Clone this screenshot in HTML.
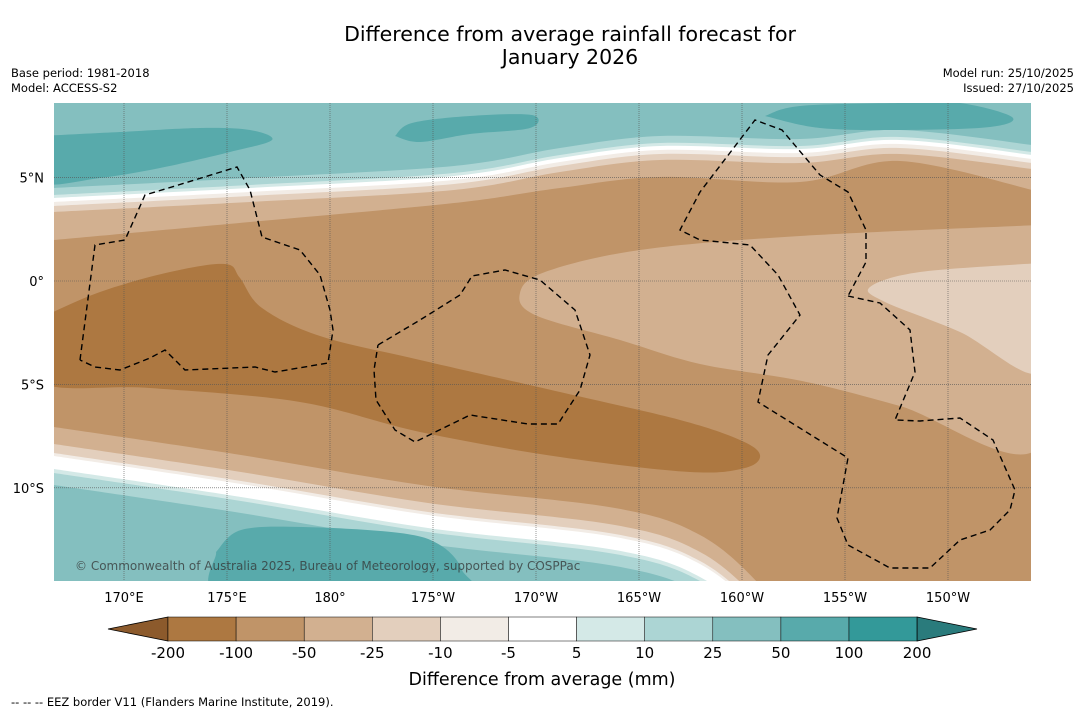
<!DOCTYPE html>
<html><head><meta charset="utf-8">
<style>
html,body{margin:0;padding:0;background:#fff;width:1085px;height:713px;overflow:hidden;}
body{font-family:"DejaVu Sans","Liberation Sans",sans-serif;}
svg{display:block;}
svg text{font-family:"DejaVu Sans","Liberation Sans",sans-serif;}
</style></head>
<body>
<svg id="chart" width="1085" height="713" viewBox="0 0 1085 713" xmlns="http://www.w3.org/2000/svg">
<text x="570" y="41" font-size="20.5" text-anchor="middle" fill="#000">Difference from average rainfall forecast for</text>
<text x="570" y="64" font-size="20.5" text-anchor="middle" fill="#000">January 2026</text>
<text x="11" y="77" font-size="11.5">Base period: 1981-2018</text>
<text x="11" y="92" font-size="11.5">Model: ACCESS-S2</text>
<text x="1074" y="77" font-size="11.5" text-anchor="end">Model run: 25/10/2025</text>
<text x="1074" y="92" font-size="11.5" text-anchor="end">Issued: 27/10/2025</text>
<defs><clipPath id="mapclip"><rect x="54" y="103" width="977" height="478"/></clipPath></defs>
<g id="map" clip-path="url(#mapclip)"></g>
<g id="grid"></g>
<g id="eez" clip-path="url(#mapclip)"></g>
<text x="75" y="570" font-size="12" fill="#333" fill-opacity="0.75">© Commonwealth of Australia 2025, Bureau of Meteorology, supported by COSPPac</text>
<g id="axes"></g>
<g id="cbar"></g>
<text x="542" y="685" font-size="17.5" text-anchor="middle">Difference from average (mm)</text>
<text x="11" y="706" font-size="11.5">--  --  -- EEZ border V11 (Flanders Marine Institute, 2019).</text>
</svg>
<script>
const levels=["-200","-100","-50","-25","-10","-5","5","10","25","50","100","200"];
const colors=["#ad7841","#c09468","#d2b090","#e3cfbd","#f2ece6","#ffffff","#d4e9e7","#acd5d4","#84bfbf","#58aaab","#339999"];
const lowColor="#8c5a2c", highColor="#2a7b7c";
const lonTicks=["170°E","175°E","180°","175°W","170°W","165°W","160°W","155°W","150°W"];
const lonVals=[170,175,180,185,190,195,200,205,210];
const latTicks=["5°N","0°","5°S","10°S"];
const latVals=[5,0,-5,-10];
const NS="http://www.w3.org/2000/svg";
const xLon=l=>124+(l-170)*20.6;
const yLat=l=>281-l*20.68;
function mk(tag,attrs,parent){const e=document.createElementNS(NS,tag);for(const k in attrs)e.setAttribute(k,attrs[k]);parent.appendChild(e);return e;}
function smooth(p){let d="M"+p[0][0]+","+p[0][1];for(let i=0;i<p.length-1;i++){const a=p[i-1]||p[i],b=p[i],c=p[i+1],e=p[i+2]||c;d+=" C"+(b[0]+(c[0]-a[0])/6)+","+(b[1]+(c[1]-a[1])/6)+" "+(c[0]-(e[0]-b[0])/6)+","+(c[1]-(e[1]-b[1])/6)+" "+c[0]+","+c[1];}return d;}
const map=document.getElementById('map');
function band(pts,closeTop,col,name){
  let d=smooth(pts);
  const y=closeTop?90:600;
  d+=" L1040,"+y+" L40,"+y+" Z";
  const el=mk('path',{d:d,fill:col},map);
  
  
}
function blob(pts,col,name){const el=mk('path',{d:smooth(pts.concat([pts[0]]))+"Z",fill:col},map);
  
  }
mk('rect',{x:40,y:90,width:1000,height:520,fill:colors[1]},map);
const A=[[40,241],[54,240],[250,222],[454,203],[560,188],[660,177],[800,182],[900,161],[1040,192]];
const B=[[40,213],[54,212],[250,202],[454,190],[560,172],[660,160],[800,163],[900,154],[1040,170]];
band(A,true,colors[2],'top-band-minus50');
band(B,true,colors[3],'top-band-minus25');
[[-6,4],[-10,5],[-14,6],[-17,7],[-24,8]].forEach((o,i)=>{
  band(B.map(p=>[p[0],p[1]+o[0]]),true,colors[4+i],'top-band-'+levels[5+i]);
});
blob([[40,136],[120,132],[200,128],[250,130],[272,140],[230,152],[160,168],[100,178],[40,182]],colors[9],'teal-patch-west');
blob([[395,136],[412,123],[470,116],[532,115],[530,128],[470,134],[420,142]],colors[9],'teal-patch-central');
blob([[765,116],[800,106],[900,103],[960,103],[1012,117],[990,127],[900,130],[820,128]],colors[9],'teal-patch-east');
blob([[1040,225],[800,236],[640,250],[545,272],[520,293],[535,315],[620,340],[700,364],[802,381],[900,406],[1040,446]],colors[2],'tongue-minus50');
blob([[1040,263],[920,272],[870,287],[885,302],[960,332],[1040,372]],colors[3],'tongue-minus25');
blob([[40,318],[100,292],[170,272],[225,264],[240,278],[262,308],[320,336],[420,360],[560,392],[680,420],[740,440],[760,455],[745,468],[690,472],[560,457],[420,432],[300,402],[150,388],[40,382]],colors[0],'dark-brown-region');
const C=[[40,425],[54,427],[241,455],[428,486],[615,508],[700,535],[760,585],[800,640]];
band(C,false,colors[2],'bottom-band-minus50');
[[17,3],[26,4],[29,5],[42,6],[46,7],[58,8]].forEach((o,i)=>{
  band(C.map(p=>[p[0],p[1]+o[0]]),false,colors[3+i],'bottom-band-'+levels[4+i]);
});
blob([[216,552],[241,530],[303,527],[400,533],[440,545],[462,570],[460,600],[230,600]],colors[9],'teal-patch-south');
const grid=document.getElementById('grid');
lonVals.forEach((v,i)=>{const x=xLon(v);const l=mk('line',{x1:x,x2:x,y1:103,y2:581,stroke:'#555','stroke-width':0.6,'stroke-dasharray':'1,1'},grid);
  
  });
latVals.forEach((v,i)=>{const y=yLat(v);const l=mk('line',{x1:54,x2:1031,y1:y,y2:y,stroke:'#555','stroke-width':0.6,'stroke-dasharray':'1,1'},grid);
  
  });
const axes=document.getElementById('axes');
lonTicks.forEach((t,i)=>{const e=mk('text',{x:xLon(lonVals[i]),y:602,'font-size':13,'text-anchor':'middle'},axes);e.textContent=t;
  
  });
latTicks.forEach((t,i)=>{const e=mk('text',{x:44,y:yLat(latVals[i])+5,'font-size':13,'text-anchor':'end'},axes);e.textContent=t;
  
  });
const eez=document.getElementById('eez');
const lines=[
[[80,360],[95,245],[125,240],[145,195],[175,186],[237,167],[250,190],[262,237],[300,250],[320,275],[330,310],[333,330],[328,363],[275,372],[255,367],[185,370],[165,350],[150,358],[120,370],[95,367],[80,360]],
[[378,345],[420,320],[460,295],[472,276],[505,270],[540,280],[575,310],[590,355],[580,390],[558,424],[528,424],[470,415],[415,442],[395,430],[376,400],[374,370],[378,345]],
[[848,296],[880,303],[910,330],[915,372],[895,420],[920,421],[960,418],[993,440],[1015,490],[1010,510],[990,530],[960,540],[930,568],[890,568],[848,545],[837,518],[848,458],[758,402],[768,355],[800,315],[778,275],[750,245],[700,240],[680,230],[700,192],[755,120],[782,130],[820,175],[848,192],[866,230],[866,262],[848,296]]
];
lines.forEach(p=>{let d="M"+p.map(q=>q.join(",")).join(" L");const l=mk('path',{d:d,fill:'none',stroke:'#000','stroke-width':1.4,'stroke-dasharray':'6,4'},eez);
  
  });
const cb=document.getElementById('cbar');
const cx0=168,cw=68.1,cy=617,ch=24;
let t=mk('path',{d:`M${cx0},${cy} L108,${cy+ch/2} L${cx0},${cy+ch} Z`,fill:lowColor,stroke:'#000','stroke-width':0.8},cb);


colors.forEach((c,i)=>{const r=mk('rect',{x:cx0+i*cw,y:cy,width:cw,height:ch,fill:c,stroke:'#000','stroke-width':0.5},cb);
  
  });
const xe=cx0+colors.length*cw;
t=mk('path',{d:`M${xe},${cy} L977,${cy+ch/2} L${xe},${cy+ch} Z`,fill:highColor,stroke:'#000','stroke-width':0.8},cb);


levels.forEach((lv,i)=>{const e=mk('text',{x:cx0+i*cw,y:658,'font-size':15,'text-anchor':'middle'},cb);e.textContent=lv;
  
  });
</script>
</body></html>
